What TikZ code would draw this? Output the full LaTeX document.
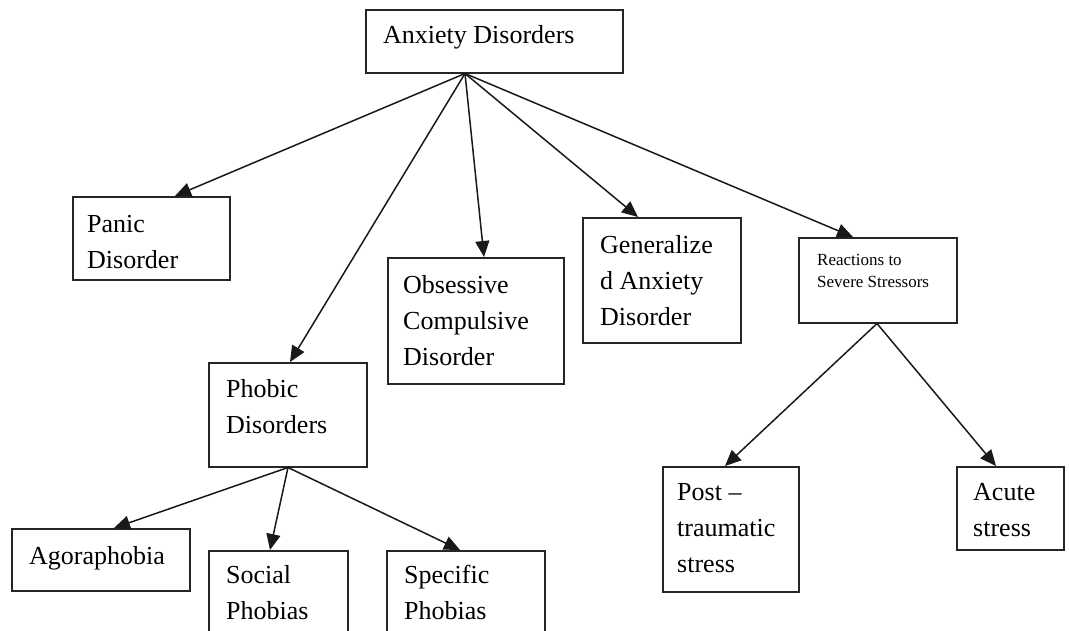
\documentclass[tikz,border=0pt]{standalone}
\usepackage{fontspec}
\setmainfont{Liberation Serif}
\usetikzlibrary{arrows.meta}
% top-aligned multi-line label: baseline of the first line is the anchor
\newcommand\boxlines[1]{\parbox[t]{200pt}{\raggedright #1}}
\begin{document}
\begin{tikzpicture}[x=1pt,y=-1pt,
  box/.style={draw=black!85, line width=1.5pt, rectangle, inner sep=0pt, anchor=north west},
  lbl/.style={anchor=base west, inner sep=0pt, font=\fontsize{26}{36}\selectfont},
  smalllbl/.style={anchor=base west, inner sep=0pt, font=\fontsize{17}{22}\selectfont},
  link/.style={draw=black!90, line width=1.5pt, -{Triangle[length=16pt,width=14pt]}}]
\useasboundingbox (0,0) rectangle (1069,630);
\clip (0,0) rectangle (1069,630);

% boxes
\node[box, minimum width=257, minimum height=63]  (anx)    at (365,9)   {};
\node[box, minimum width=157, minimum height=83]  (panic)  at (72,196)  {};
\node[box, minimum width=176, minimum height=126] (ocd)    at (387,257) {};
\node[box, minimum width=158, minimum height=125] (gad)    at (582,217) {};
\node[box, minimum width=158, minimum height=85]  (rss)    at (798,237) {};
\node[box, minimum width=158, minimum height=104] (phob)   at (208,362) {};
\node[box, minimum width=178, minimum height=62]  (agora)  at (11,528)  {};
\node[box, minimum width=139, minimum height=110] (social) at (208,550) {};
\node[box, minimum width=158, minimum height=110] (spec)   at (386,550) {};
\node[box, minimum width=136, minimum height=125] (ptsd)   at (662,466) {};
\node[box, minimum width=107, minimum height=83]  (acute)  at (956,466) {};

% labels
\node[lbl] (anxT)    at (383,43)  {Anxiety Disorders};
\node[lbl] (panicT)  at (87,232)  {\boxlines{Panic\\Disorder}};
\node[lbl] (ocdT)    at (403,293) {\boxlines{Obsessive\\Compulsive\\Disorder}};
\node[lbl] (gadT)    at (600,253) {\boxlines{Generalize\\d Anxiety\\Disorder}};
\node[smalllbl] (rssT) at (817,265) {\boxlines{Reactions to\\Severe Stressors}};
\node[lbl] (phobT)   at (226,397) {\boxlines{Phobic\\Disorders}};
\node[lbl] (agoraT)  at (29,564)  {Agoraphobia};
\node[lbl] (socialT) at (226,583) {\boxlines{Social\\Phobias}};
\node[lbl] (specT)   at (404,583) {\boxlines{Specific\\Phobias}};
\node[lbl] (ptsdT)   at (677,500) {\boxlines{Post –\\traumatic\\stress}};
\node[lbl] (acuteT)  at (973,500) {\boxlines{Acute\\stress}};

% connectors
\draw[link] ([xshift=100pt]anx.south west) -- ([xshift=103pt]panic.north west);
\draw[link] ([xshift=100pt]anx.south west) -- ([xshift=82pt]phob.north west);
\draw[link] ([xshift=100pt]anx.south west) -- ([xshift=97pt]ocd.north west);
\draw[link] ([xshift=100pt]anx.south west) -- ([xshift=56pt]gad.north west);
\draw[link] ([xshift=100pt]anx.south west) -- ([xshift=55pt]rss.north west);
\draw[link] ([xshift=80pt]phob.south west) -- ([xshift=103pt]agora.north west);
\draw[link] ([xshift=80pt]phob.south west) -- ([xshift=62pt]social.north west);
\draw[link] ([xshift=80pt]phob.south west) -- ([xshift=74pt]spec.north west);
\draw[link] ([xshift=79pt]rss.south west) -- ([xshift=63pt]ptsd.north west);
\draw[link] ([xshift=79pt]rss.south west) -- ([xshift=40pt]acute.north west);
\end{tikzpicture}
\end{document}
